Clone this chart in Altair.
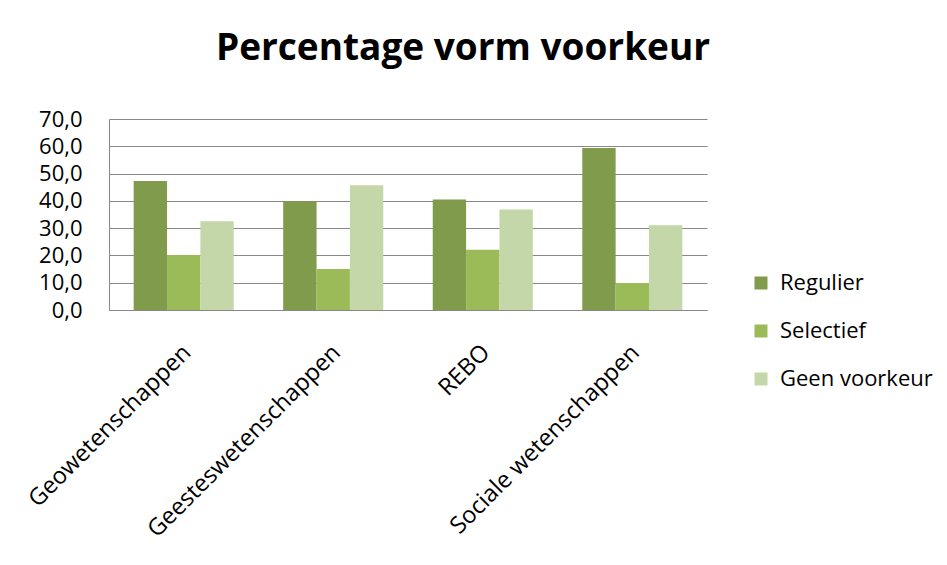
import altair as alt
import pandas as pd

categories = ["Geowetenschappen", "Geesteswetenschappen", "REBO", "Sociale wetenschappen"]
series = ["Regulier", "Selectief", "Geen voorkeur"]
regulier = [47.3, 39.9, 40.5, 59.4]
selectief = [20.2, 15.0, 22.1, 9.9]
geen_voorkeur = [32.5, 45.7, 36.8, 31.1]
colors = ["#7F9B4B", "#9BBB59", "#C4D7A8"]
y_ticks = [0, 10, 20, 30, 40, 50, 60, 70]

rows = []
for i, c in enumerate(categories):
    for s, vals in zip(series, [regulier, selectief, geen_voorkeur]):
        rows.append({"categorie": c, "reeks": s, "waarde": vals[i], "volgorde": series.index(s)})
df = pd.DataFrame(rows)

FONT = "Open Sans"

bars = alt.Chart(df).mark_bar().encode(
    x=alt.X("categorie:N", sort=categories, title=None,
            scale=alt.Scale(paddingInner=0.331, paddingOuter=0.165),
            axis=alt.Axis(labelAngle=-45, labelFontSize=23.5, labelFont=FONT, labelColor="#000000",
                          ticks=False, labelPadding=30, labelOffset=-5, domainColor="#888888", domainWidth=1,
                          labelAlign="right", labelBaseline="top", labelLimit=0)),
    xOffset=alt.XOffset("reeks:N", sort=series, scale=alt.Scale(paddingInner=0, paddingOuter=0)),
    y=alt.Y("waarde:Q", title=None,
            scale=alt.Scale(domain=[0, 70], nice=False),
            axis=alt.Axis(values=y_ticks, labelExpr="replace(format(datum.value, '.1f'), '.', ',')",
                          labelFontSize=22, labelFont=FONT, labelColor="#000000", ticks=False,
                          labelPadding=27, domain=True, domainColor="#888888",
                          grid=True, gridColor="#888888", gridWidth=1)),
    color=alt.Color("reeks:N", sort=series, scale=alt.Scale(domain=series, range=colors),
                    legend=alt.Legend(title=None, orient="none", legendX=641, legendY=153,
                                      symbolType="square", symbolSize=169, symbolStrokeWidth=0,
                                      labelFontSize=22, labelFont=FONT, labelColor="#000000",
                                      labelOffset=8, rowPadding=26, padding=0)),
    order=alt.Order("volgorde:Q"),
)

chart = bars.properties(
    width=598, height=191,
    autosize=alt.AutoSizeParams(type="none"),
    padding={"left": 101, "top": 111, "right": 228, "bottom": 240},
    title=alt.TitleParams("Percentage vorm voorkeur", font=FONT, fontSize=37, fontWeight="bold",
                          color="#000000", anchor="middle", dx=55, offset=11, baseline="alphabetic"),
).configure_view(stroke=None).configure_axis(gridColor="#888888")

chart.save("out.html", embed_options={"renderer": "svg", "actions": False})
